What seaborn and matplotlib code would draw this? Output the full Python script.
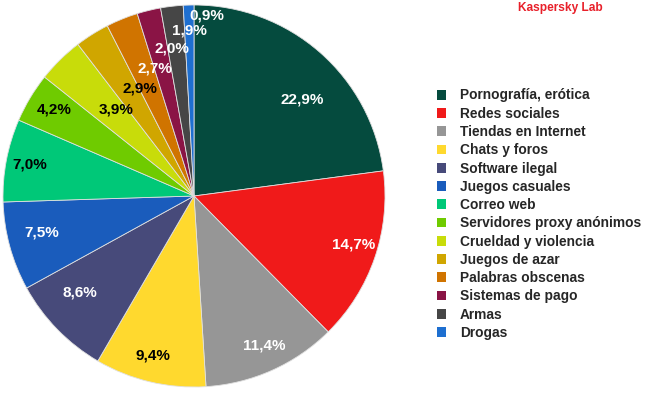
import numpy as np
import matplotlib
matplotlib.use("Agg")
import matplotlib.pyplot as plt
import matplotlib.patches as mpatches
import seaborn as sns

categories = ["Pornografía, erótica", "Redes sociales", "Tiendas en Internet",
              "Chats y foros", "Software ilegal", "Juegos casuales", "Correo web",
              "Servidores proxy anónimos", "Crueldad y violencia", "Juegos de azar",
              "Palabras obscenas", "Sistemas de pago", "Armas", "Drogas"]
values = [22.9, 14.7, 11.4, 9.4, 8.6, 7.5, 7.0, 4.2, 3.9, 2.9, 2.7, 2.0, 1.9, 0.9]
value_labels = ["22,9%", "14,7%", "11,4%", "9,4%", "8,6%", "7,5%", "7,0%",
                "4,2%", "3,9%", "2,9%", "2,7%", "2,0%", "1,9%", "0,9%"]

colors = ["#054B3E", "#F01A1A", "#969696", "#FFD92E", "#474A7A", "#1A5CBC",
          "#00C878", "#6FCB00", "#C8DC0A", "#D0A600", "#D07400", "#8A1445",
          "#464646", "#1E6FD0"]
text_colors = ["white", "white", "white", "black", "white", "white", "black",
               "black", "black", "black", "white", "white", "white", "white"]
label_r = [0.76, 0.875, 0.865, 0.86, 0.78, 0.82, 0.875, 0.86, 0.61, 0.63, 0.70, 0.78, 0.865, 0.95]
label_dang = [-7, 2, 1, -1, -4, -1.7, 0, -1, -2.5, -5.6, -5, -5, -5, -5.7]

sns.set_theme(style="white")
plt.rcParams['font.family'] = ['Liberation Sans', 'DejaVu Sans']

fig = plt.figure(figsize=(6.5, 4), dpi=100)
R = 191
cx, cy = 194, 196
ax = fig.add_axes([(cx - R) / 650, (400 - cy - R) / 400, 2 * R / 650, 2 * R / 400])
wedges, _ = ax.pie(values, colors=colors, startangle=90, counterclock=False,
                   radius=1, wedgeprops=dict(edgecolor="#e0e0e0", linewidth=0.6))
ax.set_xlim(-1, 1)
ax.set_ylim(-1, 1)
ax.set_aspect("equal")
ax.axis("off")

for w, lab, tc, r, da in zip(wedges, value_labels, text_colors, label_r, label_dang):
    ang = np.deg2rad((w.theta1 + w.theta2) / 2 + da)
    ax.text(r * np.cos(ang), r * np.sin(ang), lab, ha="center", va="center",
            color=tc, fontsize=11, fontweight="bold")

handles = [mpatches.Patch(facecolor=c, edgecolor="none") for c in colors]
fig.legend(handles, categories, loc="upper left", bbox_to_anchor=(431 / 650, 1 - 83 / 400),
           frameon=False, prop=dict(size=9.9, weight="bold"),
           handlelength=0.72, handleheight=0.72, handletextpad=1.0,
           labelspacing=0.31, borderaxespad=0)

fig.text(518 / 650, 1 - 8 / 400, "Kaspersky Lab", color="#E8202A", fontsize=8.6,
         fontweight="bold", ha="left", va="center")

fig.savefig("out.png", dpi=100)
